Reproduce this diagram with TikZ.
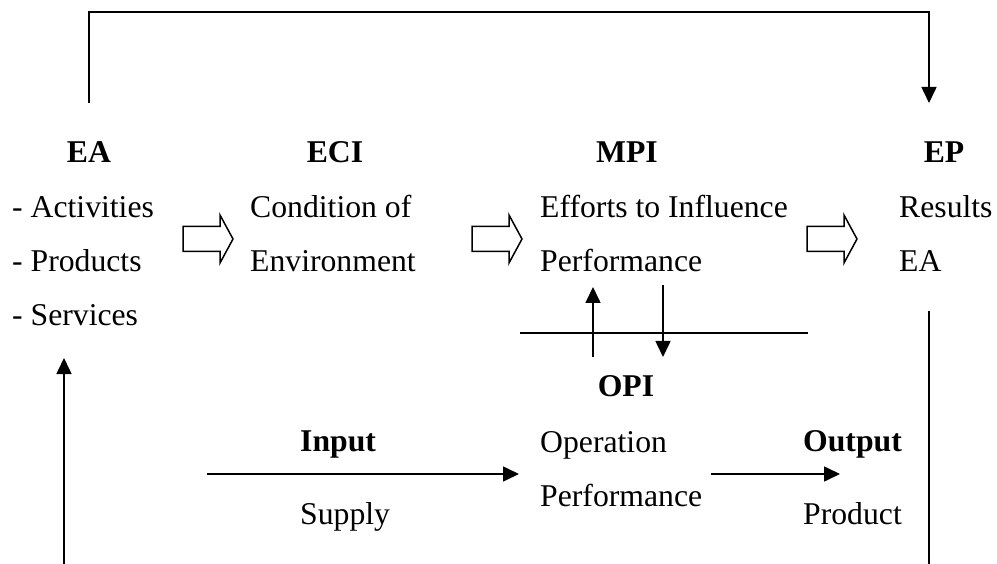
\documentclass[tikz,border=0pt]{standalone}
\usepackage{fontspec}
\setmainfont{Liberation Serif}
\usetikzlibrary{arrows.meta}
\begin{document}
\begin{tikzpicture}[x=1pt,y=-1pt,
  txt/.style={anchor=base west,inner sep=0pt,font=\fontsize{31.7}{38}\selectfont},
  ttl/.style={anchor=base,inner sep=0pt,font=\fontsize{31.7}{38}\selectfont\bfseries},
  ttlw/.style={anchor=base west,inner sep=0pt,font=\fontsize{31.7}{38}\selectfont\bfseries},
  conn/.style={line width=1.6pt,line join=miter},
  arr/.style={conn,-{Triangle[length=16pt,width=15pt]}},
  blk/.style={line width=1.5pt,line join=miter},
  barrow/.pic={\draw[blk] (0,-12.5) -- (37,-12.5) -- (37,-24) -- (50,0) -- (37,24) -- (37,12.5) -- (0,12.5) -- cycle;}]
\useasboundingbox (0,0) rectangle (997,564);
% titles
\node[ttl] (ea) at (89,163) {EA};
\node[ttl] (eci) at (335,163) {ECI};
\node[ttl] (mpi) at (627,163) {MPI};
\node[ttl] (ep) at (944,163) {EP};
% text lines
\node[txt] (act) at (12,218) {- Activities};
\node[txt] (prod) at (12,272) {- Products};
\node[txt] (serv) at (12,326) {- Services};
\node[txt] (cond) at (250,218) {Condition of};
\node[txt] (env) at (250,272) {Environment};
\node[txt] (eff) at (540,218) {Efforts to Influence};
\node[txt] (perf) at (540,272) {Performance};
\node[txt] (res) at (899,218) {Results};
\node[txt] (epea) at (899,272) {EA};
% block arrows
\pic at (183,239) {barrow};
\pic at (472,239) {barrow};
\pic at (807,239) {barrow};
% OPI
\node[ttl] (opi) at (626,396) {OPI};
\node[ttlw] (inp) at (300,451) {Input};
\node[txt] (sup) at (300,524) {Supply};
\node[txt] (oper) at (540,452) {Operation};
\node[txt] (operf) at (540,506) {Performance};
\node[ttlw] (outp) at (803,451) {Output};
\node[txt] (prodc) at (803,524) {Product};
% coordinates
\coordinate (lt) at (89,103);
\coordinate (tl) at (89,12);
\coordinate (tr) at (929,12);
\coordinate (rt) at (929,103);
\coordinate (u1) at (593,357);
\coordinate (u2) at (593,287);
\coordinate (d1) at (663,285);
\coordinate (d2) at (663,357);
\coordinate (h1) at (520,333);
\coordinate (h2) at (808,333);
\coordinate (i1) at (207,474);
\coordinate (i2) at (519,474);
\coordinate (o1) at (711,474);
\coordinate (o2) at (840,474);
\coordinate (l1) at (64,564);
\coordinate (l2) at (64,358);
\coordinate (r1) at (929,311);
\coordinate (r2) at (929,564);
% connectors
\draw[arr] (lt) -- (tl) -- (tr) -- (rt);
\draw[arr] (u1) -- (u2);
\draw[arr] (d1) -- (d2);
\draw[conn] (h1) -- (h2);
\draw[arr] (i1) -- (i2);
\draw[arr] (o1) -- (o2);
\draw[arr] (l1) -- (l2);
\draw[conn] (r1) -- (r2);
\end{tikzpicture}
\end{document}
